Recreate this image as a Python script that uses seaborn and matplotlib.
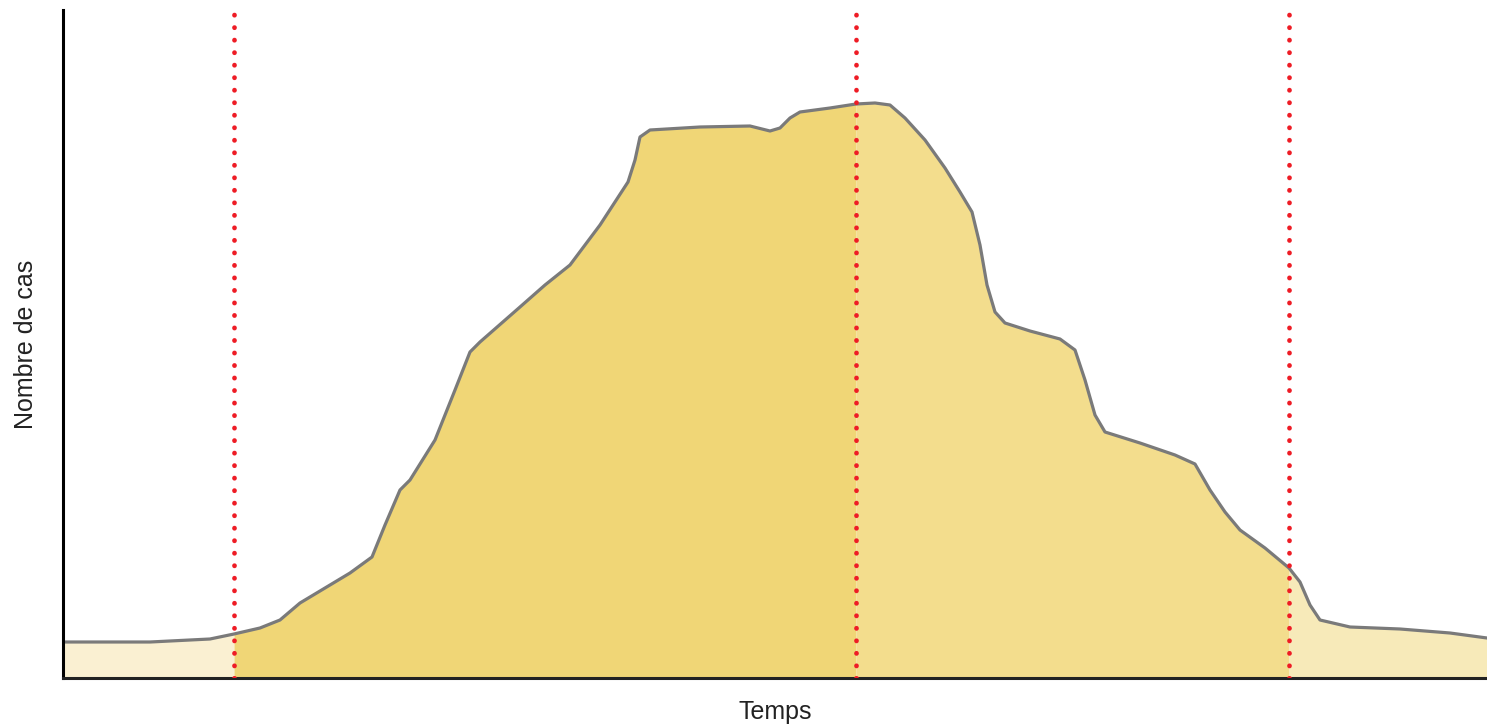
import matplotlib
matplotlib.use('Agg')
import numpy as np
import matplotlib.pyplot as plt
import seaborn as sns

# Epidemic curve (time units, number of cases)
temps = [0, 87, 147, 171, 197, 217, 237, 267, 287, 309, 322, 337, 347, 372, 392,
         407, 417, 457, 482, 507, 537, 565, 572, 577, 587, 637, 687, 707, 717, 727,
         737, 767, 793, 812, 827, 842, 862, 882, 897, 909, 917, 924, 932, 942, 967,
         997, 1012, 1022, 1032, 1042, 1077, 1112, 1132, 1147, 1162, 1177, 1202, 1226,
         1237, 1247, 1257, 1287, 1337, 1387, 1424]
cas = [36, 36, 39, 44, 50, 58, 75, 93, 105, 121, 153, 188, 198, 238, 288,
       326, 336, 371, 393, 413, 453, 496, 518, 541, 548, 551, 552, 547, 550, 560,
       566, 570, 574, 575, 573, 560, 538, 510, 486, 466, 433, 393, 366, 355, 347,
       339, 328, 298, 263, 246, 235, 223, 214, 188, 166, 148, 130, 110,
       96, 73, 58, 51, 49, 45, 40]

# Period boundaries (red dotted lines)
limites = [171, 793, 1226]
couleurs = ['#FAF0D2', '#F0D676', '#F3DD8D', '#F7EAB9']

sns.set_style("white")
plt.rcParams['font.family'] = ['Liberation Sans', 'DejaVu Sans']

fig = plt.figure(figsize=(14.87, 7.25), dpi=100)
ax = fig.add_axes([63 / 1487, 47 / 725, 1424 / 1487, 668 / 725])

x = np.array(temps)
y = np.array(cas)
bords = [x[0]] + limites + [x[-1]]
for i, c in enumerate(couleurs):
    m = (x >= bords[i]) & (x <= bords[i + 1])
    ax.fill_between(x[m], 0, y[m], color=c, linewidth=0)

sns.lineplot(x=temps, y=cas, color='#7a7a7a', linewidth=2.3, sort=False, ax=ax,
             solid_joinstyle='round', solid_capstyle='round')

for lim in limites:
    ax.axvline(lim, color='#ee1c25', linewidth=3.4, linestyle=(0, (0.05, 2.6)),
               dash_capstyle='round', zorder=5)

ax.set_xlim(0, 1424)
ax.set_ylim(0, 668)
ax.set_xticks([])
ax.set_yticks([])
ax.spines['top'].set_visible(False)
ax.spines['right'].set_visible(False)
ax.spines['left'].set_linewidth(2.2)
ax.spines['bottom'].set_linewidth(2.2)
ax.spines['left'].set_color('black')
ax.spines['bottom'].set_color('#222222')

ax.set_xlabel('Temps', fontsize=18, labelpad=16, color='#222222')
ax.set_ylabel('Nombre de cas', fontsize=18, labelpad=18, color='#222222')

fig.savefig('out.png', dpi=100)
